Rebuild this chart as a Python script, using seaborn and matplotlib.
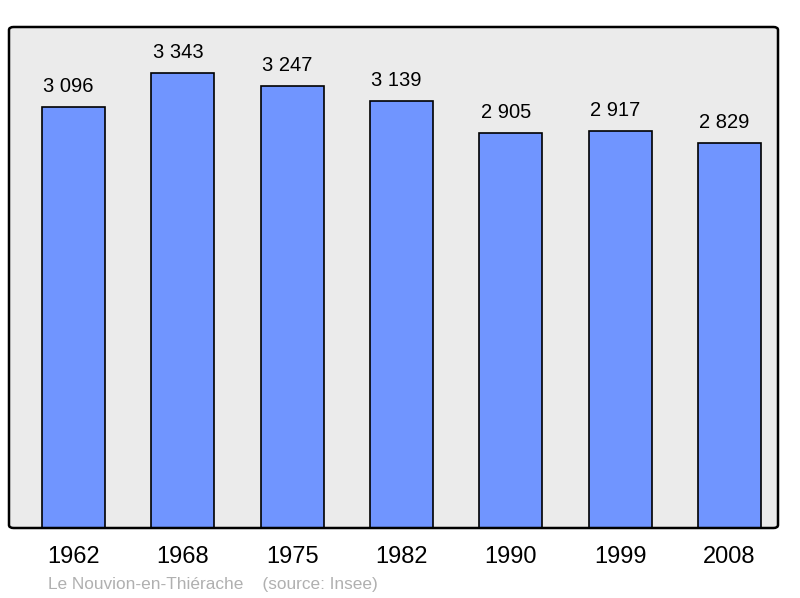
import matplotlib
matplotlib.use("Agg")
import matplotlib.pyplot as plt
from matplotlib.patches import FancyBboxPatch
import seaborn as sns
import pandas as pd

years = ["1962", "1968", "1975", "1982", "1990", "1999", "2008"]
population = [3096, 3343, 3247, 3139, 2905, 2917, 2829]
labels = ["3 096", "3 343", "3 247", "3 139", "2 905", "2 917", "2 829"]

sns.set_style("white")
plt.rcParams['font.family'] = ['Liberation Sans', 'DejaVu Sans']

df = pd.DataFrame({"year": years, "pop": population})

fig = plt.figure(figsize=(8, 5.98), dpi=100)
ax = fig.add_axes([9/800, 1 - 528/598, 769/800, 501/598])
ax.set_facecolor("#ebebeb")

sns.barplot(data=df, x="year", y="pop", color="#7095ff", saturation=1,
            width=0.576, edgecolor="black", linewidth=1.2, ax=ax)

# value labels sit a touch left of bar centre, as in the original
for i, (v, t) in enumerate(zip(population, labels)):
    ax.annotate(t, (i, v), xytext=(-3.6, 8), textcoords="offset points",
                ha="center", va="bottom", fontsize=14.5, color="black")

ax.set_xlim(-0.59, 6.444)
ax.set_ylim(0, 3681)
ax.set_yticks([])
ax.set_xlabel("")
ax.set_ylabel("")
ax.tick_params(axis="x", length=0, pad=13, labelsize=17, labelcolor="black")
for s in ax.spines.values():
    s.set_visible(False)

frame = FancyBboxPatch((0, 0), 1, 1, boxstyle="round,pad=0,rounding_size=0.006",
                       transform=ax.transAxes, facecolor="none", edgecolor="black",
                       linewidth=1.8, clip_on=False, zorder=5)
ax.add_patch(frame)

fig.text(48/800, 1 - 584/598, "Le Nouvion-en-Thiérache    (source: Insee)",
         color="#b0b0b0", fontsize=12.4, va="center", ha="left")

fig.savefig("out.png", dpi=100)
